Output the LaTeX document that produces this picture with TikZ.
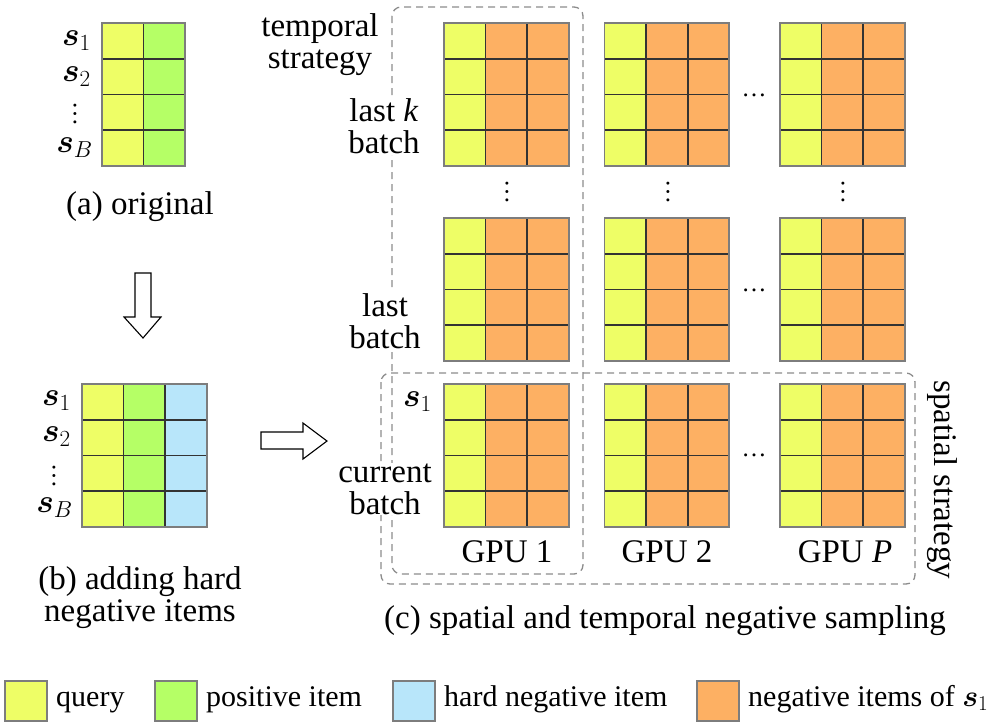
\RequirePackage{fix-cm}
\documentclass[tikz,border=0pt]{standalone}
\usepackage{bm}
\usepackage{fontspec}
\setmainfont{Liberation Serif}

\definecolor{queryfill}{RGB}{238,254,102}
\definecolor{posfill}{RGB}{181,255,102}
\definecolor{hardfill}{RGB}{184,230,250}
\definecolor{negfill}{RGB}{253,176,99}
\definecolor{framegray}{RGB}{125,125,125}
\definecolor{boxgray}{RGB}{140,140,140}

\newcommand{\cellw}{41.6}
\newcommand{\cellh}{35.7}
% one batch: x, y of the top left corner, columns, column colours
\newcommand{\batchgrid}[4]{%
  \foreach \col [count=\i from 0] in {#4}
    \fill[\col] ({#1+\i*\cellw},#2) rectangle ++(\cellw,{4*\cellh});
  \foreach \r in {1,2,3}
    \draw[cellline] (#1,{#2+\r*\cellh}) -- ++({#3*\cellw},0);
  \foreach \k in {2,...,#3}
    \draw[cellline] ({#1+(\k-1)*\cellw},#2) -- ++(0,{4*\cellh});
  \draw[cellframe] (#1,#2) rectangle ++({#3*\cellw},{4*\cellh});
}

\begin{document}
\begin{tikzpicture}[x=1pt,y=-1pt,
    every node/.style={font=\fontsize{33}{32}\selectfont, inner sep=1pt},
    cellline/.style={black!80, line width=1.6pt},
    cellframe/.style={framegray, line width=1.8pt},
    strategybox/.style={boxgray, line width=1.3pt, dash pattern=on 7pt off 5pt, rounded corners=9pt},
    batchlabel/.style={align=center, fill=white},
    dotsnode/.style={font=\fontsize{25}{25}\selectfont, inner sep=0pt},
    hollowarrow/.style={black, line width=1.1pt, fill=white},
    legendbox/.style={framegray, line width=1.8pt},
    legendtext/.style={anchor=base west, font=\fontsize{30}{32}\selectfont}]
  \useasboundingbox (0,0) rectangle (997,723);

  % (a) and (b)
  \batchgrid{102}{23}{2}{queryfill,posfill}
  \node (as1) [anchor=east] at (92,41) {$\bm{s}_1$};
  \node (as2) [anchor=east] at (92,77) {$\bm{s}_2$};
  \node (adots) [dotsnode, rotate=90] at (75,114) {…};
  \node (asB) [anchor=east] at (94,148) {$\bm{s}_B$};
  \node (acap) [anchor=base] at (140,214) {(a) original};

  \draw[hollowarrow] (135,273) -- (151,273) -- (151,317) -- (161,317) -- (143,338)
    -- (124,317) -- (135,317) -- cycle;

  \batchgrid{82}{384}{3}{queryfill,posfill,hardfill}
  \node (bs1) [anchor=east] at (72,401) {$\bm{s}_1$};
  \node (bs2) [anchor=east] at (72,437) {$\bm{s}_2$};
  \node (bdots) [dotsnode, rotate=90] at (54,476) {…};
  \node (bsB) [anchor=east] at (74,508) {$\bm{s}_B$};
  \node (bcap) [align=center] at (140,598) {(b) adding hard\\negative items};

  \draw[hollowarrow] (261,432) -- (303,432) -- (303,423) -- (327,441) -- (303,459)
    -- (303,449) -- (261,449) -- cycle;

  % (c)
  \draw[strategybox] (392,7) rectangle (583,574);
  \draw[strategybox] (381,373) rectangle (915,584);

  \foreach \gx in {444,604.5,780}
    \foreach \gy in {23,218,384} {
      \batchgrid{\gx}{\gy}{3}{queryfill,negfill,negfill}
    }

  \node (temporal) [align=center] at (320,45) {temporal\\strategy};
  \node (lastk) [batchlabel] at (384,126) {last \textit{k}\\batch};
  \node (last) [batchlabel] at (385,321) {last\\batch};
  \node (current) [batchlabel] at (385,489) {current\\batch};
  \node (cs1) [anchor=east] at (433,402) {$\bm{s}_1$};

  \node (hdots1) [dotsnode] at (754,95) {…};
  \node (hdots2) [dotsnode] at (754,290) {…};
  \node (hdots3) [dotsnode] at (754,455) {…};
  \node (vdots1) [dotsnode, rotate=90] at (507,192) {…};
  \node (vdots2) [dotsnode, rotate=90] at (668,192) {…};
  \node (vdots3) [dotsnode, rotate=90] at (843,192) {…};

  \node (gpu1) at (507,552) {GPU 1};
  \node (gpu2) at (667,552) {GPU 2};
  \node (gpuP) at (845,552) {GPU \textit{P}};
  \node (spatial) [rotate=-90] at (942,480) {spatial strategy};
  \node (ccap) at (665,621) {(c) spatial and temporal negative sampling};

  % legend
  \draw[legendbox, fill=queryfill] (5,681) rectangle ++(42,40);
  \node (lquery) [legendtext] at (55,706) {query};
  \draw[legendbox, fill=posfill] (155,681) rectangle ++(42,40);
  \node (lpos) [legendtext] at (205,706) {positive item};
  \draw[legendbox, fill=hardfill] (393,681) rectangle ++(42,40);
  \node (lhard) [legendtext] at (443,706) {hard negative item};
  \draw[legendbox, fill=negfill] (697,681) rectangle ++(42,40);
  \node (lneg) [legendtext] at (747,706) {negative items of $\bm{s}_1$};
\end{tikzpicture}
\end{document}
